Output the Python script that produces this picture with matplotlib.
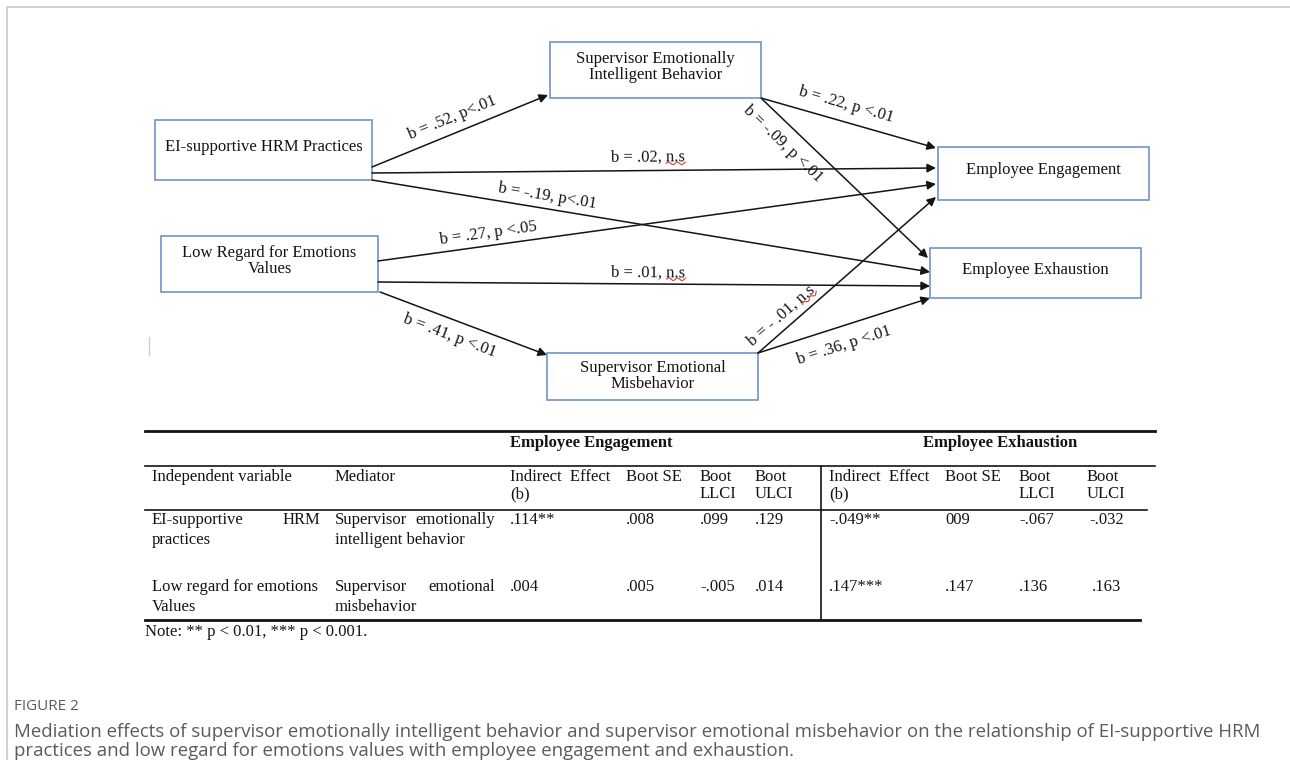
import numpy as np
import matplotlib
matplotlib.use('Agg')
import matplotlib.pyplot as plt
from matplotlib.patches import Rectangle, FancyArrowPatch

W, H = 1290, 760
SERIF = ['Liberation Serif', 'DejaVu Serif']
SANS = ['Open Sans', 'DejaVu Sans']
BOX_EDGE = '#7391cf'
INK = '#141414'
CAPTION = '#5b5b5b'
FRAME = '#c9c9c9'
SQUIGGLE = '#e03a2f'

# ---- path model ----
nodes = ['EI-supportive HRM Practices',
         'Low Regard for Emotions\nValues',
         'Supervisor Emotionally\nIntelligent Behavior',
         'Supervisor Emotional\nMisbehavior',
         'Employee Engagement',
         'Employee Exhaustion']
path_from = [0, 0, 0, 1, 1, 1, 2, 2, 3, 3]
path_to = [2, 4, 5, 4, 5, 3, 4, 5, 4, 5]
path_b = ['.52', '.02', '-.19', '.27', '.01', '.41', '.22', '-.09', '- .01', '.36']
path_p = ['p<.01', 'n.s', 'p<.01', 'p <.05', 'n.s', 'p <.01', 'p <.01', 'p <.01', 'n.s', 'p <.01']

# ---- mediation table ----
group_titles = ['Employee Engagement', 'Employee Exhaustion']
col_heads = ['Independent variable', 'Mediator', 'Indirect  Effect\n(b)', 'Boot SE',
             'Boot\nLLCI', 'Boot\nULCI', 'Indirect  Effect\n(b)', 'Boot SE',
             'Boot\nLLCI', 'Boot\nULCI']
iv_names = [('EI-supportive', 'HRM', 'practices'), ('Low regard for emotions', '', 'Values')]
med_names = [('Supervisor', 'emotionally', 'intelligent behavior'),
             ('Supervisor', 'emotional', 'misbehavior')]
engagement = [['.114**', '.008', '.099', '.129'], ['.004', '.005', '-.005', '.014']]
exhaustion = [['-.049**', '009', '-.067', '-.032'], ['.147***', '.147', '.136', '.163']]
note = 'Note: ** p < 0.01, *** p < 0.001.'

fig_label = 'FIGURE 2'
caption = ['Mediation effects of supervisor emotionally intelligent behavior and supervisor '
           'emotional misbehavior on the relationship of EI-supportive HRM',
           'practices and low regard for emotions values with employee engagement and exhaustion.']

# ---- layout (pixel units, y downwards) ----
boxes = [(155, 120, 372, 180), (161, 236, 378, 292), (550, 42, 761, 98),
         (547, 353, 758, 400), (938, 147, 1149, 200), (930, 248, 1141, 298)]
ends = [((372, 167), (548, 95)), ((372, 173), (936, 168)), ((372, 180), (930, 272)),
        ((378, 261), (936, 184)), ((378, 282), (930, 286)), ((380, 292), (547, 355)),
        ((761, 98), (936, 148)), ((762, 99), (928, 258)), ((758, 353), (936, 197)),
        ((758, 353), (930, 298))]
lab_t = [0.49, 0.49, 0.31, 0.20, 0.49, 0.45, 0.46, 0.20, 0.18, 0.47]
lab_off = [15, 13, 12, 12, 11, -16, 17, -18, 13, -19]

fig = plt.figure(figsize=(W / 100, H / 100), dpi=100)
fig.patch.set_facecolor('white')
ax = fig.add_axes([0, 0, 1, 1])
ax.set_xlim(0, W)
ax.set_ylim(H, 0)
ax.axis('off')
renderer = fig.canvas.get_renderer()

# card frame
ax.plot([7, 7, W], [H, 7, 7], color=FRAME, lw=1.2)
ax.plot([149, 149], [337, 355], color='#cfcfcf', lw=1)

FS = 12
for (x0, y0, x1, y1), name in zip(boxes, nodes):
    ax.add_patch(Rectangle((x0, y0), x1 - x0, y1 - y0, fill=False, ec=BOX_EDGE, lw=1.2))
    dy = 0 if '\n' in name and y0 > 300 else -3
    ax.text((x0 + x1) / 2, (y0 + y1) / 2 + dy, name, ha='center', va='center',
            fontsize=FS, family=SERIF, color=INK, linespacing=1.0)


def text_size(s, **kw):
    t = ax.text(0, 0, s, **kw)
    bb = t.get_window_extent(renderer)
    t.remove()
    return bb.width, bb.height


for i in range(len(path_b)):
    (x0, y0), (x1, y1) = ends[i]
    ax.add_patch(FancyArrowPatch((x0, y0), (x1, y1), arrowstyle='-|>', mutation_scale=13,
                                 shrinkA=0, shrinkB=0, lw=1.1, color=INK))
    dx, dy = x1 - x0, y1 - y0
    L = np.hypot(dx, dy)
    nx, ny = dy / L, -dx / L
    cx = x0 + lab_t[i] * dx + lab_off[i] * nx
    cy = y0 + lab_t[i] * dy + lab_off[i] * ny
    ang = np.degrees(np.arctan2(-dy, dx))
    label = f'b = {path_b[i]}, {path_p[i]}'
    ax.text(cx, cy, label, ha='center', va='center', rotation=ang, rotation_mode='anchor',
            fontsize=FS, family=SERIF, color=INK)
    if path_p[i] == 'n.s':
        # spell-check squiggle under "n.s"
        tw, th = text_size(label, fontsize=FS, family=SERIF)
        nw, _ = text_size('n.s', fontsize=FS, family=SERIF)
        u = np.linspace(tw / 2 - nw, tw / 2, 40)
        v = -th / 2 + 2 + 1.3 * np.sin((u - u[0]) / 1.4)
        th_r = np.radians(ang)
        sx = cx + u * np.cos(th_r) - v * np.sin(th_r)
        sy = cy - (u * np.sin(th_r) + v * np.cos(th_r))
        ax.plot(sx, sy, color=SQUIGGLE, lw=0.8)

# ---- table ----
TFS = 12
left, right = 145, 1155
ax.plot([left, right], [431, 431], color=INK, lw=2)
ax.plot([left, right], [466, 466], color=INK, lw=1.2)
ax.plot([left, 1147], [510, 510], color=INK, lw=1.2)
ax.plot([left, 1140], [620, 620], color=INK, lw=2)
ax.plot([821, 821], [466, 620], color=INK, lw=1.2)

ax.text(591, 443, group_titles[0], ha='center', va='center', fontsize=TFS,
        family=SERIF, weight='bold', color=INK)
ax.text(1000, 443, group_titles[1], ha='center', va='center', fontsize=TFS,
        family=SERIF, weight='bold', color=INK)

col_x = [152, 335, 510, 626, 700, 755, 829, 945, 1019, 1087]
for x, head in zip(col_x, col_heads):
    ax.text(x, 469, head, ha='left', va='top', fontsize=TFS, family=SERIF,
            color=INK, linespacing=1.1)

row_y = [520, 587]
line_gap = 20
for r in range(2):
    y = row_y[r]
    a, b, c = iv_names[r]
    ax.text(152, y, a, ha='left', va='center', fontsize=TFS, family=SERIF, color=INK)
    if b:
        ax.text(320, y, b, ha='right', va='center', fontsize=TFS, family=SERIF, color=INK)
    ax.text(152, y + line_gap, c, ha='left', va='center', fontsize=TFS, family=SERIF, color=INK)
    a, b, c = med_names[r]
    ax.text(335, y, a, ha='left', va='center', fontsize=TFS, family=SERIF, color=INK)
    ax.text(495, y, b, ha='right', va='center', fontsize=TFS, family=SERIF, color=INK)
    ax.text(335, y + line_gap, c, ha='left', va='center', fontsize=TFS, family=SERIF, color=INK)
    vals = engagement[r] + exhaustion[r]
    xs = col_x[2:9] + [1089 if r == 0 else 1092]
    for x, v in zip(xs, vals):
        ax.text(x, y, v, ha='left', va='center', fontsize=TFS, family=SERIF, color=INK)

ax.text(145, 632, note, ha='left', va='center', fontsize=TFS, family=SERIF, color=INK)

# ---- caption ----
ax.text(14, 706, fig_label, ha='left', va='center', fontsize=11, family=SANS, color=CAPTION)
for k, line in enumerate(caption):
    ax.text(14, 737 + 19 * k, line, ha='left', va='baseline', fontsize=13.4,
            family=SANS, color=CAPTION)

fig.savefig('out.png', dpi=100, facecolor='white')
